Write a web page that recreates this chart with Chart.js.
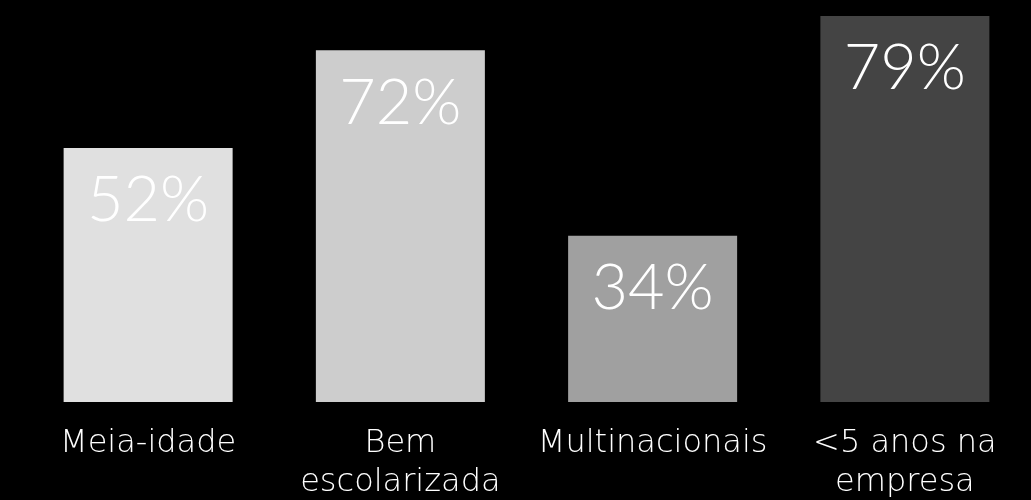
<!DOCTYPE html>
<html>
<head>
<meta charset="utf-8">
<script src="https://cdn.jsdelivr.net/npm/chart.js@4"></script>
<style>
  html, body { margin: 0; padding: 0; background: #000; }
  #wrap { width: 1031px; height: 500px; }
</style>
</head>
<body>
<div id="wrap"><canvas id="chart"></canvas></div>
<script>
// categorias e valores (%)
const categories = [["Meia-idade"], ["Bem", "escolarizada"], ["Multinacionais"], ["<5 anos na", "empresa"]];
const values = [52, 72, 34, 79];
const barColors = ["#e0e0e0", "#cdcdcd", "#a0a0a0", "#444444"];

const VALUE_FONT = "Lato, 'Open Sans', sans-serif";
const LABEL_FONT = "'DejaVu Sans', sans-serif";

// rótulo de valor dentro da barra
const valueLabels = {
    id: "valueLabels",
    afterDatasetsDraw(chart) {
        const ctx = chart.ctx;
        const meta = chart.getDatasetMeta(0);
        ctx.save();
        ctx.fillStyle = "#ffffff";
        ctx.font = "300 63px " + VALUE_FONT;
        ctx.textAlign = "center";
        ctx.textBaseline = "middle";
        meta.data.forEach((bar, i) => {
            ctx.fillText(values[i] + "%", bar.x, bar.y + 53);
        });
        ctx.restore();
    }
};

new Chart(document.getElementById("chart"), {
    type: "bar",
    data: {
        labels: categories,
        datasets: [{
            data: values,
            backgroundColor: barColors,
            borderWidth: 0,
            barPercentage: 0.67,
            categoryPercentage: 1
        }]
    },
    options: {
        responsive: true,
        maintainAspectRatio: false,
        animation: false,
        layout: { padding: { left: 22, right: 0, top: 16, bottom: 0 } },
        plugins: { legend: { display: false }, tooltip: { enabled: false } },
        scales: {
            x: {
                grid: { display: false, drawTicks: false },
                border: { display: false },
                afterFit(scale) { scale.height = 98; },
                ticks: {
                    color: "#ffffff",
                    padding: 22,
                    maxRotation: 0,
                    autoSkip: false,
                    font: { family: LABEL_FONT, size: 32, weight: 200, lineHeight: 1.22 }
                }
            },
            y: {
                display: false,
                min: 0,
                max: 79
            }
        }
    },
    plugins: [valueLabels]
});
</script>
</body>
</html>
